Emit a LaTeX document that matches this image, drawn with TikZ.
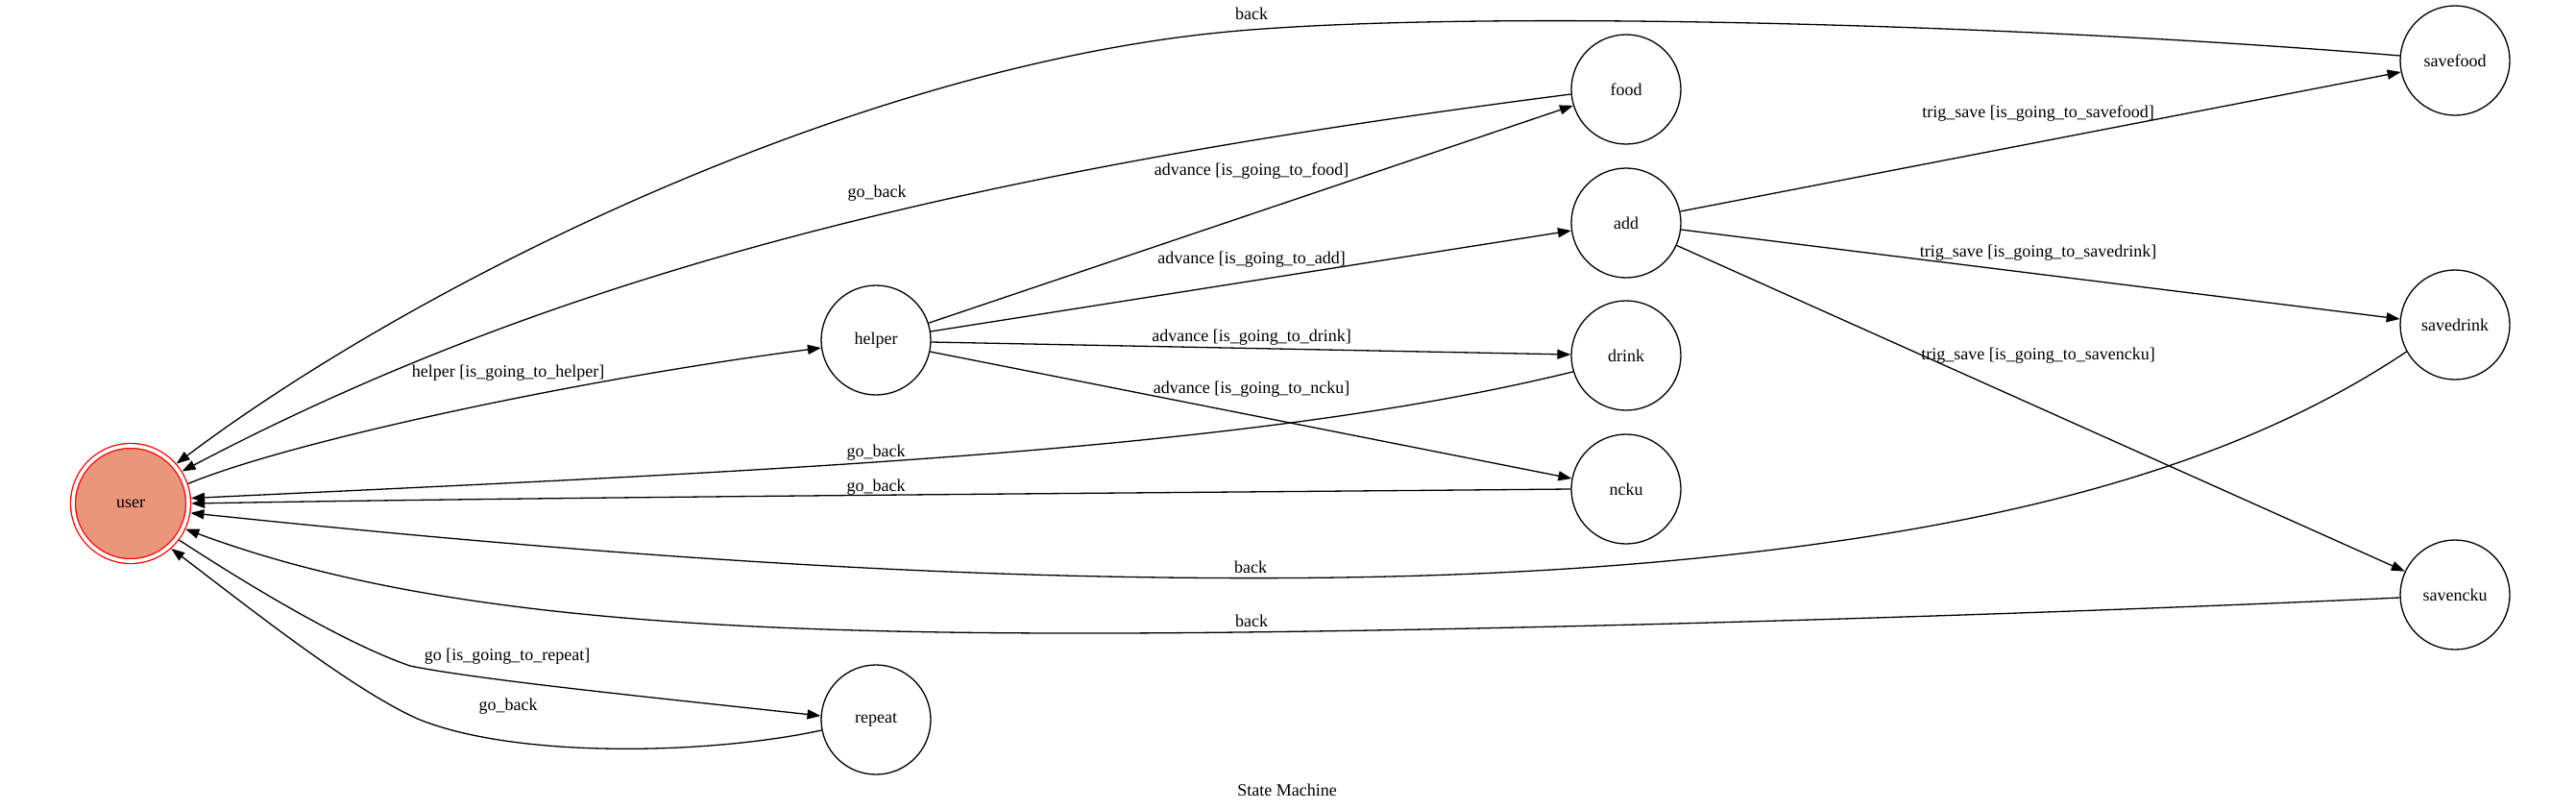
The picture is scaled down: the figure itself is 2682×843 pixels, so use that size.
\documentclass[tikz,border=0pt]{standalone}
\usepackage{fontspec}
\setmainfont{Liberation Serif}
\usetikzlibrary{arrows.meta}
\definecolor{usercol}{RGB}{233,150,122}
\begin{document}
\begin{tikzpicture}[x=1pt,y=-1pt,
  every node/.style={font=\fontsize{18}{21}\selectfont},
  st/.style={circle,draw,line width=1.3pt,minimum size=114pt,inner sep=0pt},
  tr/.style={line width=1.3pt,-{Triangle[length=14pt,width=10pt]}},
  lbl/.style={inner sep=0pt}]
\useasboundingbox (0,0) rectangle (2682,843);
% states
\node[circle,draw=red,line width=1.3pt,double=white,double distance=3.7pt,fill=usercol,
      minimum size=120pt,inner sep=0pt,outer sep=3.2pt] (user) at (136,524) {user};
\node[st] (helper) at (912,354) {helper};
\node[st] (repeat) at (912,749) {repeat};
\node[st] (food) at (1693,93) {food};
\node[st] (add) at (1693,232) {add};
\node[st] (drink) at (1693,370) {drink};
\node[st] (ncku) at (1693,509) {ncku};
\node[st] (savefood) at (2556,63) {savefood};
\node[st] (savedrink) at (2556,338) {savedrink};
\node[st] (savencku) at (2556,619) {savencku};
% transitions
\draw[tr] (user.19) .. controls (300,460) and (600,395) .. (helper.188);
\draw[tr] (helper.18.7) -- (food.197);
\draw[tr] (helper.9) -- (add.188);
\draw[tr] (helper.358) -- (drink.179);
\draw[tr] (helper.348) -- (ncku.169);
\draw[tr] (food.185) .. controls (1036,175) and (597,276) .. (user.32);
\draw[tr] (savefood.175) .. controls (2100,25) and (1550,10) .. (1290,32)
          .. controls (900,65) and (440,290) .. (user.41.5);
\draw[tr] (drink.197) .. controls (1300,470) and (800,490) .. (user.5.3);
\draw[tr] (ncku.180) .. controls (1200,513) and (600,517) .. (user.0.7);
\draw[tr] (savedrink.209) .. controls (2350,470) and (2150,530) .. (1900,565)
          .. controls (1650,600) and (1400,605) .. (1150,600)
          .. controls (800,593) and (450,560) .. (user.351.4);
\draw[tr] (savencku.183) .. controls (2000,645) and (1400,660) .. (1100,659)
          .. controls (700,658) and (420,635) .. (user.335.3);
\draw[tr] (user.323) .. controls (260,610) and (360,670) .. (427,693)
          .. controls (500,708) and (700,728) .. (repeat.176);
\draw[tr] (repeat.191) .. controls (740,785) and (540,790) .. (437,749)
          .. controls (367,719) and (246,622) .. (user.312.4);
\draw[tr] (add.12) -- (savefood.192);
\draw[tr] (add.353) -- (savedrink.174);
\draw[tr] (add.336) -- (savencku.155);
% labels
\node[lbl] (l1) at (529,388) {helper [is\_going\_to\_helper]};
\node[lbl] (l2) at (913,201) {go\_back};
\node[lbl] (l3) at (1303,14) {back};
\node[lbl] (l4) at (1303,178) {advance [is\_going\_to\_food]};
\node[lbl] (l5) at (1303,270) {advance [is\_going\_to\_add]};
\node[lbl] (l6) at (1303,351) {advance [is\_going\_to\_drink]};
\node[lbl] (l7) at (1303,405) {advance [is\_going\_to\_ncku]};
\node[lbl] (l8) at (912,471) {go\_back};
\node[lbl] (l9) at (912,507) {go\_back};
\node[lbl] (l10) at (1302,590) {back};
\node[lbl] (l11) at (1303,646) {back};
\node[lbl] (l12) at (528,683) {go [is\_going\_to\_repeat]};
\node[lbl] (l13) at (529,735) {go\_back};
\node[lbl] (l14) at (2122,118) {trig\_save [is\_going\_to\_savefood]};
\node[lbl] (l15) at (2122,263) {trig\_save [is\_going\_to\_savedrink]};
\node[lbl] (l16) at (2122,370) {trig\_save [is\_going\_to\_savencku]};
\node[lbl] (title) at (1340,822) {State Machine};
\end{tikzpicture}
\end{document}
